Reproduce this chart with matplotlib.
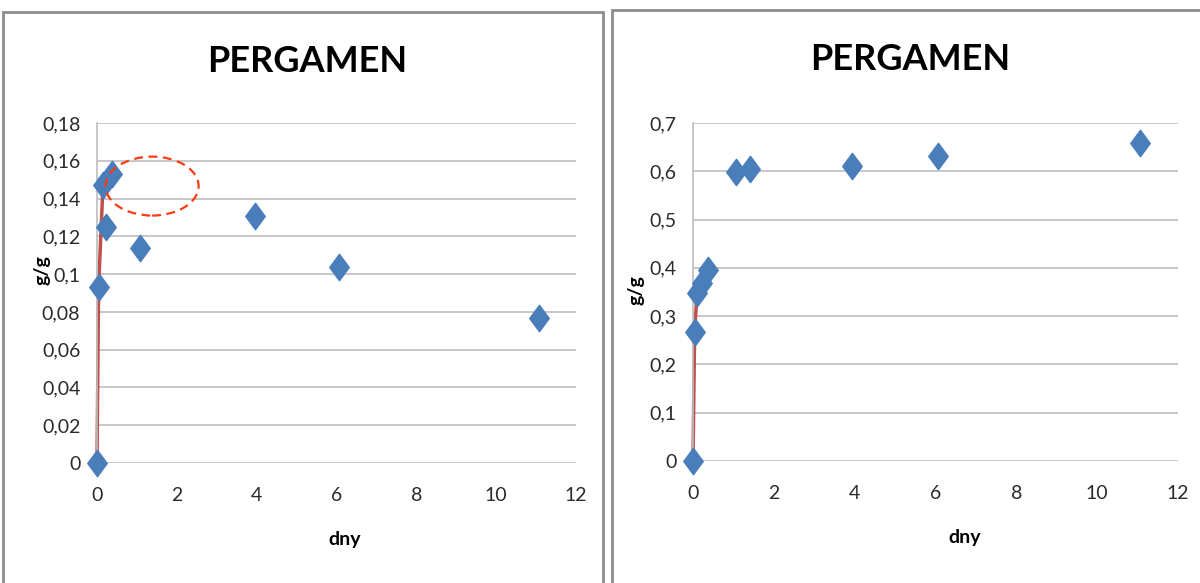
import numpy as np
import matplotlib
matplotlib.use("Agg")
from matplotlib import pyplot as plt
from matplotlib.patches import Ellipse, Rectangle
from matplotlib.path import Path
from matplotlib.ticker import FuncFormatter

# left panel: first series
days_a = [0, 0.04, 0.15, 0.22, 0.37, 1.08, 3.96, 6.07, 11.08]
gg_a = [0, 0.093, 0.147, 0.125, 0.153, 0.114, 0.131, 0.104, 0.077]

# right panel: second series
days_b = [0, 0.04, 0.1, 0.22, 0.37, 1.06, 1.41, 3.94, 6.06, 11.06]
gg_b = [0, 0.267, 0.348, 0.369, 0.395, 0.598, 0.604, 0.610, 0.632, 0.658]

title = "PERGAMEN"
xlabel = "dny"
ylabel = "g/g"
yticks_a = [0, 0.02, 0.04, 0.06, 0.08, 0.1, 0.12, 0.14, 0.16, 0.18]
yticks_b = [0, 0.1, 0.2, 0.3, 0.4, 0.5, 0.6, 0.7]
xticks = [0, 2, 4, 6, 8, 10, 12]

FONT = ["Lato", "DejaVu Sans"]
BLUE = "#4A7EBB"
RED = "#C0504D"
GRID = "#BEBEBE"

diamond = Path([(-0.37, 0), (0, 0.5), (0.37, 0), (0, -0.5), (-0.37, 0)],
               [Path.MOVETO, Path.LINETO, Path.LINETO, Path.LINETO, Path.CLOSEPOLY])


def comma(v, pos):
    s = ("%.2f" % v).rstrip("0").rstrip(".")
    return s.replace(".", ",")


def draw_panel(ax, x, y, yticks, ymax, fit_n, xl_pos, yl_pos):
    ax.set_xlim(0, 12)
    ax.set_ylim(0, ymax)
    ax.set_yticks(yticks)
    ax.set_xticks(xticks)
    ax.yaxis.set_major_formatter(FuncFormatter(comma))
    ax.grid(axis="y", color=GRID, lw=1.2)
    ax.set_axisbelow(True)
    for s in ["top", "right", "bottom"]:
        ax.spines[s].set_visible(False)
    ax.spines["left"].set_color(GRID)
    ax.spines["left"].set_linewidth(1.2)
    ax.tick_params(length=0, labelsize=14)
    ax.tick_params(axis="x", pad=17)
    ax.tick_params(axis="y", pad=12)
    for lab in ax.get_xticklabels() + ax.get_yticklabels():
        lab.set_family(FONT)
        lab.set_color("#2a2a2a")
    # short trend line over the first points
    ax.plot(x[:fit_n], y[:fit_n], color=RED, lw=2.5, zorder=2, clip_on=False)
    ax.plot(x, y, ls="none", marker=diamond, ms=19, color=BLUE,
            mec=BLUE, zorder=3, clip_on=False)
    ax.set_xlabel(xlabel, family=FONT, fontsize=14, fontweight="bold")
    ax.set_ylabel(ylabel, family=FONT, fontsize=14, fontweight="bold")
    ax.xaxis.set_label_coords(*xl_pos)
    ax.yaxis.set_label_coords(*yl_pos)
    ax.xaxis.label.set_va("center")
    ax.yaxis.label.set_va("center")


fig = plt.figure(figsize=(12, 5.83), dpi=100)

# panel frames
fig.patches.append(Rectangle((3 / 1200, -0.05), 600 / 1200, 1 - 12 / 583 + 0.05,
                             transform=fig.transFigure, fill=False,
                             ec="#8C8C8C", lw=2))
fig.patches.append(Rectangle((612 / 1200, -0.05), 600 / 1200, 1 - 10 / 583 + 0.05,
                             transform=fig.transFigure, fill=False,
                             ec="#8C8C8C", lw=2))

ax1 = fig.add_axes([97 / 1200, 1 - 463 / 583, 479 / 1200, 340 / 583])
draw_panel(ax1, days_a, gg_a, yticks_a, 0.18, 3, (0.518, -0.226), (-0.115, 0.568))
ax1.add_patch(Ellipse((1.38, 0.1466), 2.33, 0.0312, fill=False, ec="#FF3A10",
                      lw=1.6, ls=(0, (4, 2.5)), clip_on=False, zorder=4))

ax2 = fig.add_axes([693 / 1200, 1 - 461 / 583, 485 / 1200, 338 / 583])
draw_panel(ax2, days_b, gg_b, yticks_b, 0.7, 3, (0.561, -0.225), (-0.1175, 0.506))

fig.text(307 / 1200, 1 - 62 / 583, title, family=FONT, fontsize=26,
         fontweight="bold", ha="center", va="center")
fig.text(910 / 1200, 1 - 60 / 583, title, family=FONT, fontsize=26,
         fontweight="bold", ha="center", va="center")

fig.savefig("out.png", dpi=100)
